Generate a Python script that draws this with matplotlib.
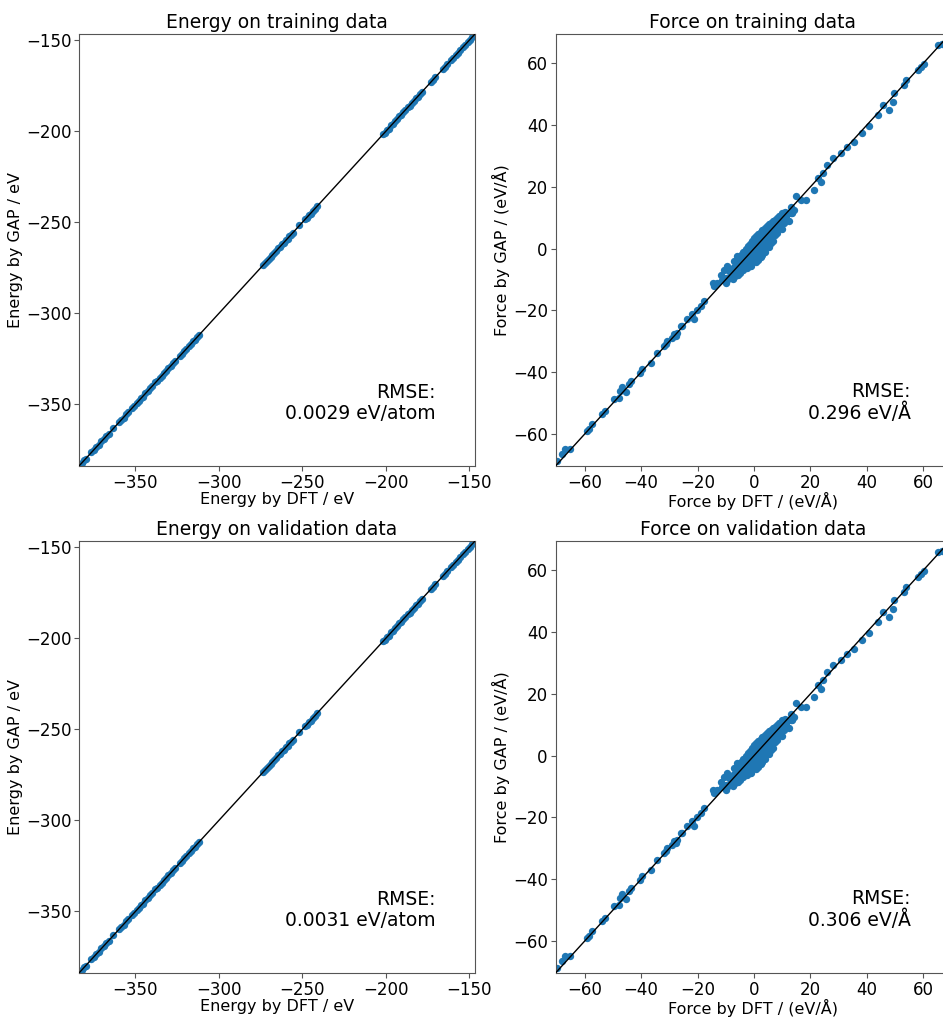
import matplotlib
matplotlib.use("Agg")
import matplotlib.pyplot as plt
import numpy as np

# ---------------- data ----------------
energy_train_dft = [-383.2, -382.0, -380.8, -379.5, -376.5, -375.0, -373.4, -372.0, -370.5, -369.0,
                    -367.4, -366.0, -363.3, -359.8, -358.5, -357.0, -355.6, -354.2, -352.0, -350.6,
                    -349.2, -348.0, -346.8, -345.5, -344.0, -342.6, -341.2, -339.8, -338.0, -336.8,
                    -335.5, -334.2, -332.8, -331.5, -330.2, -328.8, -327.4, -326.0, -323.5, -322.2,
                    -320.8, -319.5, -318.0, -316.8, -315.5, -314.2, -313.0, -311.8, -273.5, -272.4,
                    -271.3, -270.2, -269.0, -267.9, -266.8, -265.6, -264.5, -263.4, -262.3, -261.2,
                    -260.0, -258.9, -257.8, -256.6, -255.8, -251.8, -248.6, -247.4, -246.2, -245.0,
                    -243.8, -242.5, -241.2, -201.8, -200.6, -199.5, -198.3, -197.0, -195.8, -194.6,
                    -193.3, -192.0, -190.8, -189.6, -188.3, -187.0, -185.8, -184.5, -183.3, -182.0,
                    -180.8, -179.5, -178.3, -173.2, -171.8, -170.4, -166.0, -164.6, -163.2, -161.0,
                    -159.6, -158.2, -156.8, -155.4, -153.8, -152.4, -151.0, -149.6, -148.2, -147.0]
energy_train_gap = [-383.0, -382.2, -380.6, -379.7, -376.3, -375.2, -373.2, -372.2, -370.3, -369.2,
                    -367.2, -366.2, -363.1, -359.9, -358.3, -357.2, -355.4, -354.4, -351.8, -350.8,
                    -349.0, -348.2, -346.6, -345.7, -343.8, -342.8, -341.0, -340.0, -337.8, -337.0,
                    -335.3, -334.4, -332.6, -331.7, -330.0, -329.0, -327.2, -326.2, -323.3, -322.4,
                    -320.6, -319.7, -317.8, -317.0, -315.3, -314.4, -312.8, -312.0, -273.3, -272.6,
                    -271.1, -270.4, -268.8, -268.1, -266.6, -265.8, -264.3, -263.6, -262.1, -261.4,
                    -259.8, -259.1, -257.6, -256.8, -255.6, -251.6, -248.4, -247.6, -246.0, -245.2,
                    -243.6, -242.7, -241.0, -201.6, -200.8, -199.3, -198.5, -196.8, -196.0, -194.4,
                    -193.5, -191.8, -191.0, -189.4, -188.5, -186.8, -186.0, -184.3, -183.5, -181.8,
                    -181.0, -179.3, -178.5, -173.0, -172.0, -170.2, -165.8, -164.8, -163.0, -160.8,
                    -159.8, -158.0, -157.0, -155.2, -153.6, -152.6, -150.8, -149.8, -148.0, -147.2]

energy_val_dft = energy_train_dft
energy_val_gap = energy_train_gap

force_train_dft = [
    # negative tail
    -69.8, -68.0, -66.8, -65.0, -59.1, -58.5, -57.3, -53.8, -52.6, -49.6, -47.8, -47.3, -46.7,
    -45.5, -44.3, -43.7, -40.2, -39.6, -36.6, -34.3, -31.9, -31.3, -30.7, -28.9, -28.4, -27.8,
    -27.2, -26.0, -25.4, -23.6, -21.8, -21.3, -20.1, -18.9, -17.7, -14.7, -14.2, -13.0, -11.8,
    -11.2, -10.6, -9.4, -9.4, -7.1, -5.9,
    # central blob
    -10.0, -9.8, -10.5, -8.0, -8.2, -7.5, -8.8, -6.0, -6.2, -5.8, -5.5, -6.6,
    -4.5, -4.6, -4.3, -4.0, -4.8, -3.0, -3.1, -2.9, -2.7, -2.5, -3.3,
    -1.5, -1.6, -1.4, -1.2, -1.0, -1.8, 0.0, -0.2, 0.1, 0.2, 0.4, 0.6, -0.4,
    1.5, 1.3, 1.6, 1.8, 2.0, 2.3, 3.0, 2.8, 3.1, 3.3, 3.5, 3.8,
    4.5, 4.4, 4.6, 4.9, 5.1, 5.4, 6.0, 6.0, 6.2, 6.5, 6.8,
    7.5, 7.6, 7.9, 8.2, 9.0, 9.2, 9.5, 9.8, 11.0, 11.4, 11.8, 12.3, 13.0, 13.5, 14.0,
    -2.0, -0.8, 0.8, 2.4, -3.6, -5.2, 1.0, 3.9, 5.6, -1.0, -2.2, 0.5,
    -7.2, -7.0, -6.9, -5.3, -5.1, -4.9, -5.6, -3.8, -3.6, -3.4, -3.2,
    -2.3, -2.2, -2.0, -1.8, -1.6, -0.8, -0.7, -0.6, -0.4, -0.2,
    0.8, 0.9, 1.0, 1.1, 1.3, 1.5, 2.3, 2.4, 2.5, 2.6, 2.8, 3.0,
    3.8, 3.9, 4.0, 4.1, 4.3, 5.3, 5.4, 5.6, 5.8, 6.0,
    6.8, 6.9, 7.1, 7.3, 8.3, 8.4, 8.7, 10.0, 10.3, 10.6,
    # positive tail
    10.0, 13.0, 14.8, 16.6, 18.3, 21.3, 22.5, 23.7, 24.3, 26.0, 27.8, 30.7, 33.1, 35.5,
    38.4, 40.8, 43.8, 45.5, 47.9, 49.1, 49.6, 53.2, 53.8, 58.0, 59.1, 60.3, 65.0, 66.5]
force_train_gap = [
    -68.6, -66.5, -64.8, -64.8, -58.9, -58.4, -56.8, -53.5, -52.5, -48.7, -48.2, -46.0, -44.9,
    -46.5, -43.9, -42.8, -40.1, -39.0, -36.9, -33.6, -31.5, -31.0, -29.9, -28.8, -27.7, -28.3,
    -27.2, -25.1, -25.1, -22.9, -21.3, -22.9, -19.7, -18.6, -17.0, -11.1, -12.2, -11.1, -8.4,
    -10.0, -6.8, -5.7, -10.0, -4.1, -2.5,
    -9.5, -11.0, -10.2, -6.5, -8.5, -9.8, -7.4, -3.8, -5.5, -7.2, -8.6, -6.4,
    -2.0, -3.6, -5.2, -6.8, -4.4, -0.2, -1.8, -3.4, -5.0, -6.2, -2.6,
    1.6, 0.0, -1.6, -3.2, -4.6, 0.8, 3.3, 1.8, 0.2, -1.4, -3.0, -4.2, 2.6,
    4.8, 3.2, 1.6, 0.0, -1.6, -2.8, 6.0, 4.6, 3.0, 1.4, -0.2, -1.2,
    7.2, 5.8, 4.4, 2.8, 1.4, 0.4, 8.2, 6.8, 5.4, 4.0, 2.6,
    9.2, 7.8, 6.4, 5.0, 10.6, 9.0, 7.6, 6.4, 12.0, 10.6, 9.2, 8.8, 13.4, 11.5, 12.5,
    -2.6, -1.2, 0.6, 1.8, -4.4, -6.0, -2.4, 2.2, 3.2, -5.6, -0.6, 2.2,
    -7.8, -6.0, -9.0, -4.6, -6.2, -7.8, -3.2, -1.2, -2.8, -4.4, -6.0,
    0.8, -0.9, -2.6, -4.2, -5.6, 2.4, 0.8, -0.8, -2.4, -3.8,
    4.0, 2.4, 0.8, -0.8, -2.4, -3.6, 5.4, 3.8, 2.2, 0.6, -1.0, -2.0,
    6.6, 5.2, 3.6, 2.0, 0.6, 7.8, 6.2, 4.8, 3.4, 1.8,
    8.8, 7.4, 6.0, 4.4, 10.0, 8.4, 7.0, 11.2, 9.8, 8.2,
    11.5, 11.5, 16.9, 15.8, 15.8, 19.0, 22.8, 21.7, 24.4, 27.1, 29.3, 30.9, 33.0, 34.6,
    37.3, 39.5, 43.2, 46.5, 44.8, 47.5, 50.2, 52.9, 54.5, 57.7, 58.8, 59.7, 65.8, 66.3]

force_val_dft = force_train_dft
force_val_gap = force_train_gap

rmse_texts = ["RMSE:\n0.0029 eV/atom", "RMSE:\n0.296 eV/Å",
              "RMSE:\n0.0031 eV/atom", "RMSE:\n0.306 eV/Å"]
titles = ["Energy on training data", "Force on training data",
          "Energy on validation data", "Force on validation data"]

energy_lim = (-383.8, -146.6)
force_lim = (-70.3, 69.4)

# ---------------- figure ----------------
W, H = 943, 1017
fig = plt.figure(figsize=(W / 100, H / 100), dpi=100)

def px_axes(x0, x1, ytop, ybot):
    return fig.add_axes([x0 / W, 1 - ybot / H, (x1 - x0) / W, (ybot - ytop) / H])

axes = [px_axes(79, 475, 34, 466), px_axes(555.5, 950, 34, 466),
        px_axes(79, 475, 541, 973), px_axes(555.5, 950, 541, 973)]

panels = [
    (energy_train_dft, energy_train_gap, energy_lim, "Energy by DFT / eV", "Energy by GAP / eV"),
    (force_train_dft, force_train_gap, force_lim, "Force by DFT / (eV/Å)", "Force by GAP / (eV/Å)"),
    (energy_val_dft, energy_val_gap, energy_lim, "Energy by DFT / eV", "Energy by GAP / eV"),
    (force_val_dft, force_val_gap, force_lim, "Force by DFT / (eV/Å)", "Force by GAP / (eV/Å)"),
]

for ax, (xd, yd, lim, xl, yl), title, rt in zip(axes, panels, titles, rmse_texts):
    ax.scatter(xd, yd, s=28, color="#1f77b4", zorder=2, linewidths=0)
    ax.plot(lim, lim, color="black", lw=1.0, zorder=3)
    ax.set_xlim(lim)
    ax.set_ylim(lim)
    ax.set_title(title, fontsize=13.5, pad=4)
    ax.set_xlabel(xl, fontsize=11.5, labelpad=0)
    ax.set_ylabel(yl, fontsize=11.5, labelpad=2)
    ax.tick_params(labelsize=12, pad=2)
    for sp in ax.spines.values():
        sp.set_color("#555555")
    ax.tick_params(color="#555555")
    ax.text(0.9, 0.1, rt, transform=ax.transAxes, ha="right", va="bottom",
            multialignment="right", fontsize=13.5, linespacing=1.1)

fig.savefig("out.png", dpi=100)
